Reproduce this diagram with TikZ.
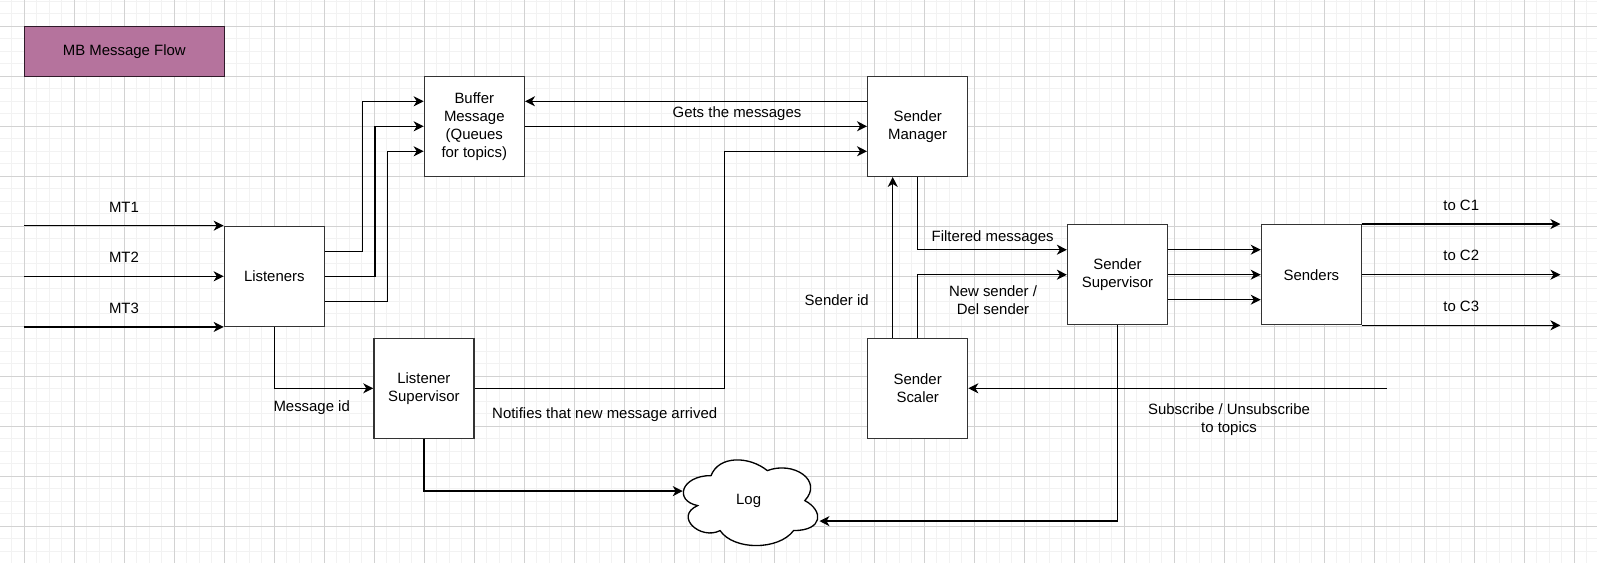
\documentclass[tikz,border=0pt]{standalone}
\usepackage{fontspec}
\setmainfont{Liberation Sans}
\usetikzlibrary{arrows.meta}
\definecolor{flowpurple}{HTML}{B5739D}
\definecolor{flowedge}{HTML}{2E1A29}
\tikzset{%
    blk/.style={draw=black!80, line width=0.75pt, fill=white, minimum width=2cm, minimum height=2cm, inner sep=0pt, align=center},
    lbl/.style={inner sep=0pt, align=center},
    flow/.style={line width=0.75pt},
    arr/.style={flow, -{Stealth[length=2mm,width=2mm,inset=0.6mm]}},
    gridminor/.style={gray!10, line width=0.5pt},
    gridmajor/.style={gray!35, line width=0.5pt}
}

\begin{document}
\begin{tikzpicture}[x=0.02cm, y=-0.02cm, font=\fontsize{8.5}{10.2}\selectfont]
        \useasboundingbox (0,0) rectangle (1597,563);
        % background grid
        \foreach \k in {-1,...,125} \draw[gridminor] (24.3+12.5*\k,0) -- (24.3+12.5*\k,563);
        \foreach \k in {-2,...,42} \draw[gridminor] (0,26.3+12.5*\k) -- (1597,26.3+12.5*\k);
        \foreach \k in {0,...,31} \draw[gridmajor] (24.3+50*\k,0) -- (24.3+50*\k,563);
        \foreach \k in {0,...,10} \draw[gridmajor] (0,26.3+50*\k) -- (1597,26.3+50*\k);

        \node[blk, fill=flowpurple, draw=flowedge, minimum width=4cm, minimum height=1cm] (title) at (124.3,51.3) {MB Message Flow};

        \node[blk] (lst) at (274.3,276.3) {Listeners};
        \node[blk] (buf) at (474.3,126.3) {Buffer\\Message\\(Queues\\for topics)};
        \node[blk] (sm) at (917.7,126.3) {Sender\\Manager};
        \node[blk] (lsup) at (423.9,388.3) {Listener\\Supervisor};
        \node[blk] (scl) at (917.7,388.3) {Sender\\Scaler};
        \node[blk] (ssup) at (1117.5,274.7) {Sender\\Supervisor};
        \node[blk] (snd) at (1311.4,274.7) {Senders};

        \draw[flow, fill=white, shift={(673.6,450.6)}, x=3cm, y=-2cm]
            (0.25,0.25) .. controls (0.05,0.25) and (0,0.5) .. (0.16,0.55)
            .. controls (0,0.66) and (0.18,0.9) .. (0.31,0.8)
            .. controls (0.4,1) and (0.7,1) .. (0.8,0.8)
            .. controls (1,0.8) and (1,0.6) .. (0.875,0.5)
            .. controls (1,0.3) and (0.8,0.1) .. (0.625,0.2)
            .. controls (0.5,0.05) and (0.3,0.05) .. (0.25,0.25) -- cycle;
        \node[minimum width=3cm, minimum height=2cm, inner sep=0pt] (log) at (748.6,500.6) {Log};

        \coordinate (mt1) at (24.3,0 |- lst.north west);
        \coordinate (mt2) at (24.3,0 |- lst.west);
        \coordinate (mt3) at (24.3,0 |- lst.south west);
        \draw[arr] (mt1) -- node[lbl, yshift=0.372cm] {MT1} (lst.north west);
        \draw[arr] (mt2) -- node[lbl, yshift=0.372cm] {MT2} (lst.west);
        \draw[arr] (mt3) -- node[lbl, yshift=0.372cm] {MT3} (lst.south west);

        \draw[arr] ([yshift=0.5cm]lst.east) -- ++(37.5,0) |- ([yshift=0.5cm]buf.west);
        \draw[arr] (lst.east) -- ++(50,0) |- (buf.west);
        \draw[arr] ([yshift=-0.5cm]lst.east) -- ++(62.5,0) |- ([yshift=-0.5cm]buf.west);

        \draw[arr] ([yshift=0.5cm]sm.west) -- ([yshift=0.5cm]buf.east);
        \draw[arr] (buf.east) -- (sm.west);
        \node[lbl] at (737,114) {Gets the messages};

        \draw[arr] (lst.south) |- (lsup.west);
        \node[lbl] at (311.7,408) {Message id};
        \draw[arr] (lsup.east) -- (724.6,388.3) |- ([yshift=-0.5cm]sm.west);
        \node[lbl] at (604.7,414.3) {Notifies that new message arrived};

        \draw[arr] (lsup.south) |- ([xshift=0.19cm,yshift=0.19cm]log.west);
        \draw[arr] (ssup.south) |- ([xshift=-0.09cm,yshift=-0.41cm]log.east);

        \draw[arr] ([xshift=-0.5cm]scl.north) -- ([xshift=-0.5cm]sm.south);
        \node[lbl] at (836.7,300) {Sender id};
        \draw[arr] (scl.north) |- (ssup.west);
        \node[lbl] at (993,300) {New sender /\\Del sender};
        \draw[arr] (sm.south) |- ([yshift=0.5cm]ssup.west);
        \node[lbl] at (992.7,238) {Filtered messages};

        \foreach \s in {0.5,0,-0.5}
            \draw[arr] ([yshift=\s cm]ssup.east) -- ([yshift=\s cm]snd.west);

        \coordinate (c1) at (1560.4,0 |- snd.north east);
        \coordinate (c2) at (1560.4,0 |- snd.east);
        \coordinate (c3) at (1560.4,0 |- snd.south east);
        \draw[arr] (snd.north east) -- node[lbl, yshift=0.38cm] {to C1} (c1);
        \draw[arr] (snd.east) -- node[lbl, yshift=0.38cm] {to C2} (c2);
        \draw[arr] (snd.south east) -- node[lbl, yshift=0.38cm] {to C3} (c3);

        \coordinate (sub) at (1386.6,388.3);
        \draw[arr] (sub) -- (scl.east);
        \node[lbl] at (1229,419.7) {Subscribe / Unsubscribe\\to topics};
\end{tikzpicture}
\end{document}
